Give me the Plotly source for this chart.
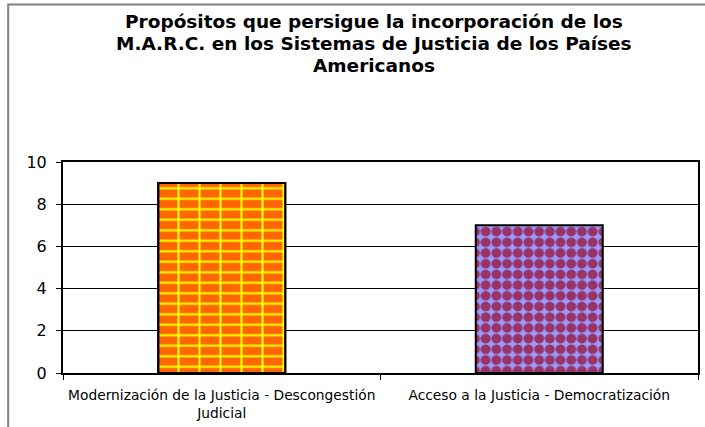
import plotly.graph_objects as go

# Data
categories = [
    'Modernización de la Justicia - Descongestión<br>Judicial',
    'Acceso a la Justicia - Democratización',
]
values = [9, 7]
y_ticks = [0, 2, 4, 6, 8, 10]

title_lines = [
    'Propósitos que persigue la incorporación de los',
    'M.A.R.C. en los Sistemas de Justicia de los Países',
    'Americanos',
]

fig = go.Figure()

# Brick bar: orange with yellow horizontal mortar lines, plus vertical joints on top
fig.add_trace(go.Bar(
    x=[categories[0]], y=[values[0]], width=0.4,
    marker=dict(color='#FF6600', line=dict(color='black', width=2),
                pattern=dict(shape='-', fgcolor='#FFFF00', bgcolor='#FF6600',
                             size=10.5, solidity=0.2, fillmode='replace')),
))
fig.add_trace(go.Bar(
    x=[categories[0]], y=[values[0]], width=0.4,
    marker=dict(color='rgba(0,0,0,0)', line=dict(color='black', width=2),
                pattern=dict(shape='|', fgcolor='#FFFF00', bgcolor='rgba(0,0,0,0)',
                             size=21, solidity=0.1, fillmode='replace')),
))
# Sphere bar: periwinkle with maroon dots
fig.add_trace(go.Bar(
    x=[categories[1]], y=[values[1]], width=0.4,
    marker=dict(color='#9999FF', line=dict(color='black', width=2),
                pattern=dict(shape='.', fgcolor='#993366', bgcolor='#9999FF',
                             size=10.7, solidity=0.68, fillmode='replace')),
))

W, H = 705, 427
ml, mr, mt, mb = 63, 5, 162, 54
pw, ph = W - ml - mr, H - mt - mb


def px_x(p):
    return (p - ml) / pw


def px_y(p):
    return (H - mb - p) / ph


# Outer chart frame (extends past the window on the right and bottom)
fig.add_shape(type='rect', xref='paper', yref='paper',
              x0=px_x(8), x1=px_x(760), y0=px_y(440), y1=px_y(4.5),
              line=dict(color='#808080', width=2), layer='above')

# Title, one line per annotation to keep the tight line spacing
for i, line in enumerate(title_lines):
    fig.add_annotation(text='<b>' + line + '</b>', xref='paper', yref='paper',
                       x=px_x(375), y=px_y(21 + 22 * i),
                       xanchor='center', yanchor='middle', showarrow=False,
                       font=dict(family='DejaVu Sans', size=18.5, color='black'))

fig.update_layout(
    width=W, height=H,
    margin=dict(l=ml, r=mr, t=mt, b=mb),
    paper_bgcolor='white', plot_bgcolor='white',
    barmode='overlay', showlegend=False, hovermode=False,
    font=dict(family='DejaVu Sans, Arial, sans-serif', color='black'),
)
fig.update_xaxes(
    showline=True, linecolor='black', linewidth=2, mirror=True,
    ticks='outside', tickson='boundaries', ticklen=5, tickcolor='black',
    ticklabelstandoff=8, tickfont=dict(size=13.8), showgrid=False,
)
fig.update_yaxes(
    range=[0, 10], tickvals=y_ticks,
    showline=True, linecolor='black', linewidth=2, mirror=True,
    ticks='outside', ticklen=5, tickcolor='black', ticklabelstandoff=6,
    showgrid=True, gridcolor='black', gridwidth=1,
    tickfont=dict(size=16), zeroline=False,
)

fig.write_html('out.html', config={'displayModeBar': False},
               post_script="document.body.style.margin='0';"
                           "document.body.style.overflow='hidden';")
